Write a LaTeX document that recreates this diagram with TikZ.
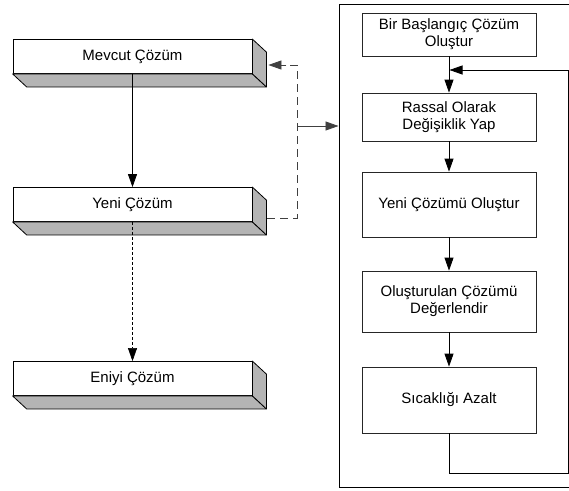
\documentclass[tikz,border=0pt]{standalone}
\usepackage{fontspec}
\setmainfont{Liberation Sans}
\usetikzlibrary{arrows.meta}
\definecolor{slabgray}{RGB}{180,180,180}
\definecolor{linegray}{RGB}{64,64,64}
\tikzset{
  front/.style={draw=black, line width=0.8pt, fill=white, minimum width=239pt, minimum height=34pt, inner sep=0pt, font=\fontsize{15}{17}\selectfont},
  face/.style={draw=black, line width=0.8pt, fill=slabgray, line join=round},
  ibox/.style={draw=black!85, line width=0.8pt, fill=white, minimum width=174pt, align=center, inner sep=0pt, font=\fontsize{15}{17}\selectfont},
  framebox/.style={draw=black, line width=0.9pt, inner sep=0pt},
  arr/.style={line width=0.8pt, -{Triangle[length=13pt,width=9pt]}},
  dashconn/.style={draw=linegray, line width=0.9pt, dash pattern=on 8pt off 5pt},
  dotconn/.style={line width=0.6pt, dash pattern=on 3pt off 2pt, -{Triangle[length=13pt,width=9pt]}}
}
\begin{document}
\begin{tikzpicture}[x=1pt,y=-1pt]
\useasboundingbox (0,0) rectangle (569,490);
\clip (0,0) rectangle (569,490);
\fill[white] (0,0) rectangle (569,490);

% left 3D slabs
\node[front] (mev) at (132.5,56.5) {Mevcut Çözüm};
\node[front] (yeni) at (132.5,204.5) {Yeni Çözüm};
\node[front] (eni) at (132.5,378.5) {Eniyi Çözüm};
\foreach \n in {mev,yeni,eni}{
  \draw[face] (\n.south west) -- (\n.south east) -- ([shift={(14,13)}]\n.south east) -- ([shift={(14,13)}]\n.south west) -- cycle;
  \draw[face] (\n.north east) -- ([shift={(14,13)}]\n.north east) -- ([shift={(14,13)}]\n.south east) -- (\n.south east) -- cycle;
}

% right frame
\node[framebox, minimum width=250pt, minimum height=483.5pt, anchor=north west] (frame) at (338.5,3.5) {};

\node[ibox, minimum height=43pt] (bir) at (449,34.5) {Bir Başlangıç Çözüm\\Oluştur};
\node[ibox, minimum height=48pt] (ras) at (449,117) {Rassal Olarak\\Değişiklik Yap};
\node[ibox, minimum height=65pt] (ycoz) at (449,204.5) {Yeni Çözümü Oluştur};
\node[ibox, minimum height=61pt] (olus) at (449,301.5) {Oluşturulan Çözümü\\Değerlendir};
\node[ibox, minimum height=66pt] (sic) at (449,400) {Sıcaklığı Azalt};

% right flow arrows
\draw[arr] (bir) -- (ras);
\draw[arr] (ras) -- (ycoz);
\draw[arr] (ycoz) -- (olus);
\draw[arr] (olus) -- (sic);

% loop back
\coordinate (loopB) at (449,473);
\coordinate (loopR) at (568,70);
\draw[arr] (sic.south) -- (loopB) -| (loopR) -- ([xshift=0.5pt]bir.south |- loopR);

% left connectors
\draw[arr] (mev) -- (yeni);
\draw[dotconn] (yeni.south) -- (eni.north);

% dashed feedback
\coordinate (ya) at ([shift={(15,13.5)}]yeni.east);
\coordinate (yb) at (297,218);
\coordinate (yc) at (297,65);
\coordinate (ma) at ([shift={(16,8.5)}]mev.east);
\draw[dashconn] (ya) -- (yb) -- (yc) -- ([xshift=16pt]ma);
\draw[arr, draw=linegray] ([xshift=18pt]ma) -- (ma);
\coordinate (dm) at (297,126);
\draw[arr, draw=linegray] (dm) -- (dm -| frame.west);
\end{tikzpicture}
\end{document}
